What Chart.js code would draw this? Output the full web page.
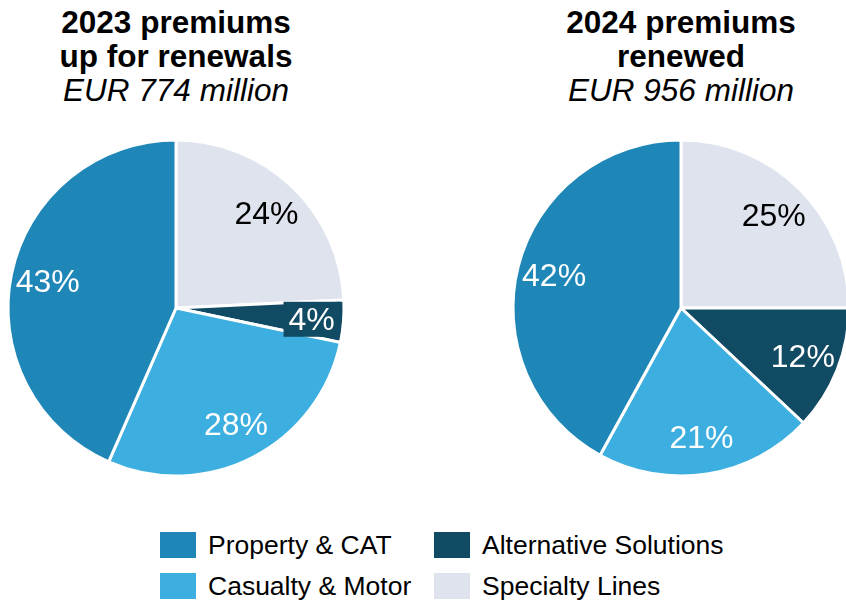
<!DOCTYPE html>
<html>
<head>
<meta charset="utf-8">
<script src="https://cdn.jsdelivr.net/npm/chart.js@4"></script>
<style>
  html, body { margin:0; padding:0; width:846px; height:601px; overflow:hidden; background:#fff; }
  body { position:relative; font-family:"Liberation Sans", Arial, sans-serif; color:#000; }
  .title { position:absolute; top:5px; width:360px; text-align:center; font-size:31.5px; line-height:34px; }
  .title b { font-weight:bold; }
  .title i { font-style:italic; }
  canvas { position:absolute; }
  .legend { position:absolute; font-size:26.5px; }
  .item { position:absolute; white-space:nowrap; height:30px; line-height:30px; }
  .sw { position:absolute; left:0; top:2px; width:36px; height:26px; }
  .lt { position:absolute; left:48px; top:0; }
</style>
</head>
<body>
<div class="title" id="t1" style="left:-4px"></div>
<div class="title" id="t2" style="left:501px"></div>
<canvas id="c1" width="352" height="340" style="left:0px;top:138px"></canvas>
<canvas id="c2" width="352" height="340" style="left:505px;top:138px"></canvas>
<div class="legend" id="legend"></div>
<script>
// ---- data ----
const categories = ['Specialty Lines', 'Alternative Solutions', 'Casualty & Motor', 'Property & CAT'];
const colors = ['#DEE3EE', '#114A63', '#3DAEE0', '#1F87B7'];
const labelColors = ['#000000', '#FFFFFF', '#FFFFFF', '#FFFFFF'];
const share2023 = [24, 4, 28, 43];
const share2024 = [25, 12, 21, 42];
const title2023 = ['2023 premiums', 'up for renewals'];
const sub2023 = 'EUR 774 million';
const title2024 = ['2024 premiums', 'renewed'];
const sub2024 = 'EUR 956 million';
const legendOrder = ['Property & CAT', 'Alternative Solutions', 'Casualty & Motor', 'Specialty Lines'];

// ---- titles ----
function setTitle(id, lines, sub) {
  const el = document.getElementById(id);
  el.innerHTML = lines.map(l => '<b>' + l + '</b>').join('<br>') + '<br><i>' + sub + '</i>';
}
setTitle('t1', title2023, sub2023);
setTitle('t2', title2024, sub2024);

// ---- legend ----
const legendPos = [[160, 530], [434, 530], [160, 571], [434, 571]];
const lg = document.getElementById('legend');
legendOrder.forEach((name, i) => {
  const idx = categories.indexOf(name);
  const it = document.createElement('div');
  it.className = 'item';
  it.style.left = legendPos[i][0] + 'px';
  it.style.top = legendPos[i][1] + 'px';
  it.innerHTML = '<span class="sw" style="background:' + colors[idx] + '"></span><span class="lt">' + name + '</span>';
  lg.appendChild(it);
});

// ---- percentage labels plugin ----
const pctLabels = {
  id: 'pctLabels',
  afterDatasetsDraw(chart) {
    const ctx = chart.ctx;
    const meta = chart.getDatasetMeta(0);
    const data = chart.data.datasets[0].data;
    ctx.save();
    ctx.font = '32px "Liberation Sans", Arial, sans-serif';
    ctx.textAlign = 'center';
    ctx.textBaseline = 'middle';
    meta.data.forEach((arc, i) => {
      const p = arc.getProps(['x', 'y', 'startAngle', 'endAngle', 'outerRadius'], true);
      const mid = (p.startAngle + p.endAngle) / 2;
      const r = p.outerRadius * (data[i] < 6 ? 0.81 : 0.78);
      const x = p.x + Math.cos(mid) * r;
      const y = p.y + Math.sin(mid) * r;
      const txt = data[i] + '%';
      if (data[i] < 6) {
        const w = ctx.measureText(txt).width + 10;
        ctx.fillStyle = colors[i];
        ctx.fillRect(x - w / 2, y - 17, w, 35);
      }
      ctx.fillStyle = labelColors[i];
      ctx.fillText(txt, x, y + 2);
    });
    ctx.restore();
  }
};

function makePie(id, values) {
  return new Chart(document.getElementById(id), {
    type: 'pie',
    data: {
      labels: categories,
      datasets: [{
        data: values,
        backgroundColor: colors,
        borderColor: '#FFFFFF',
        borderWidth: 3
      }]
    },
    options: {
      responsive: false,
      animation: false,
      radius: 168,
      layout: { padding: 0 },
      plugins: { legend: { display: false }, tooltip: { enabled: false }, title: { display: false } }
    },
    plugins: [pctLabels]
  });
}
makePie('c1', share2023);
makePie('c2', share2024);
</script>
</body>
</html>
